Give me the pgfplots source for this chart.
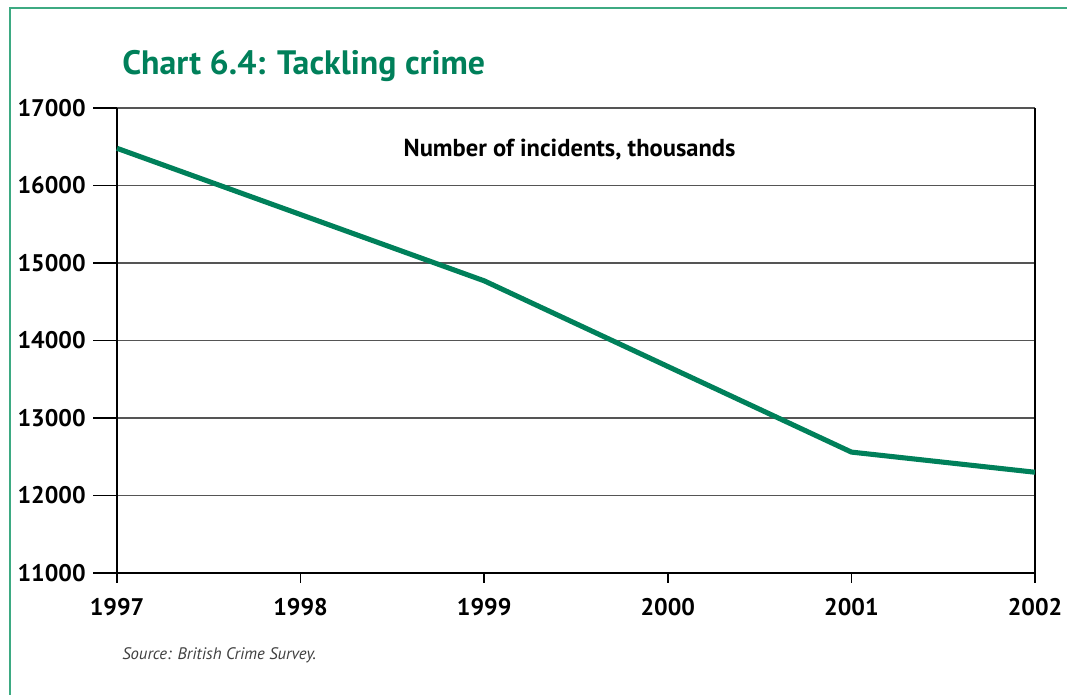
\documentclass[border=0pt]{standalone}
\usepackage{pgfplots}
\pgfplotsset{compat=1.18}
\usepackage{fontspec}
\setmainfont{PT Sans}
\definecolor{cgreen}{HTML}{00805A}
\definecolor{fgreen}{HTML}{3DAA82}
\definecolor{gridgray}{HTML}{555555}
\pgfplotsset{
  common/.style={
    at={(87.75pt,91.5pt)}, anchor=south west,
    width=688.5pt, height=348.75pt, scale only axis,
    xmin=1997, xmax=2002, ymin=11000, ymax=17000,
    scaled ticks=false,
    /pgf/number format/assume math mode=true,
    /pgf/number format/1000 sep={},
    ticklabel style={font=\fontsize{18}{20}\selectfont\bfseries},
    tick align=outside,
    clip=false,
    axis line style={draw=none},
  }
}
\begin{document}
\begin{tikzpicture}
\begin{scope}[x=0.75pt,y=0.75pt]
\useasboundingbox (0,0) rectangle (1067,695);
\draw[fgreen,line width=1.2pt] (10,-5) -- (10,687) -- (1075,687);
\node[anchor=base west,font=\fontsize{25.4}{28}\selectfont\bfseries,text=cgreen,inner sep=0pt] at (122,620) {Chart 6.4: Tackling crime};
\node[anchor=base west,font=\fontsize{12.5}{14}\selectfont\itshape,text=black!75,inner sep=0pt] at (122,35) {Source: British Crime Survey.};
\end{scope}
% y ticks, grid and labels
\begin{axis}[common,
  xtick=\empty,
  ytick={11000,12000,13000,14000,15000,16000,17000},
  ytick pos=left,
  major tick length=18pt,
  ytick style={draw=black,line width=1.1pt},
  ymajorgrids, grid style={gridgray,line width=1pt},
  yticklabel style={xshift=-2pt},
]
\end{axis}
% x ticks, labels and data
\begin{axis}[common,
  ytick=\empty,
  xtick={1997,1998,1999,2000,2001,2002},
  xtick pos=bottom,
  major tick length=7.5pt,
  xtick style={draw=black,line width=1.1pt},
  extra x ticks={1997,2002}, extra x tick labels={},
  extra x tick style={grid=major},
  extra y ticks={11000}, extra y tick labels={},
  extra y tick style={grid=major, ytick style={draw=none}},
  major grid style={black,line width=1.1pt},
  xticklabel style={yshift=-8pt},
]
\addplot[cgreen, line width=3.8pt, line join=round] coordinates {
  (1997,16480) (1999,14770) (2001,12560) (2002,12300)
};
\node[font=\fontsize{18.4}{20}\selectfont\bfseries] at (rel axis cs:0.493,0.91) {Number of incidents, thousands};
\end{axis}
\end{tikzpicture}
\end{document}
